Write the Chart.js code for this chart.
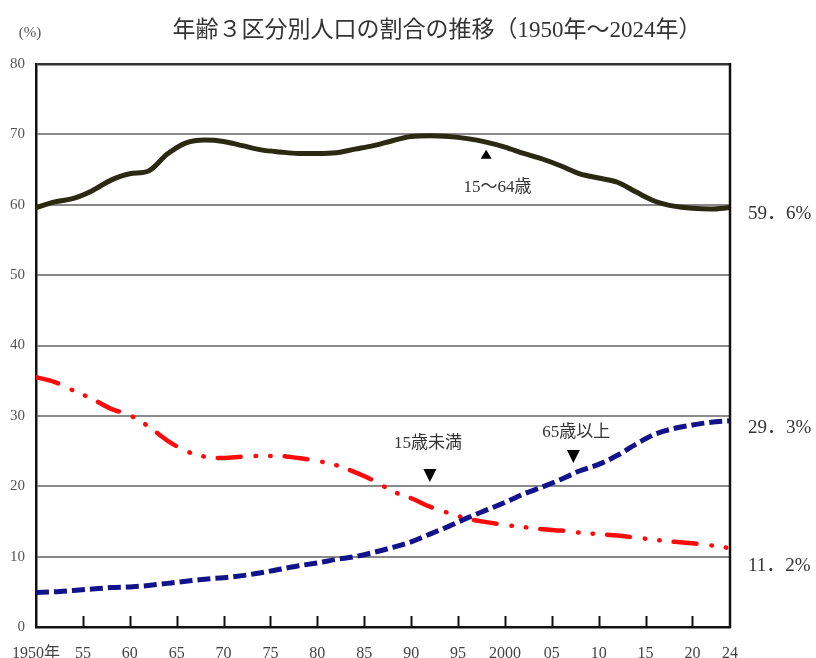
<!DOCTYPE html>
<html lang="ja">
<head>
<meta charset="utf-8">
<title>年齢３区分別人口の割合の推移</title>
<script src="https://cdn.jsdelivr.net/npm/chart.js@4.4.1/dist/chart.umd.min.js"></script>
<style>
  html, body { margin: 0; padding: 0; background: #ffffff; }
  #wrap { width: 816px; height: 658px; position: relative; }
</style>
</head>
<body>
<div id="wrap"><canvas id="c" width="816" height="658"></canvas></div>
<script>
// 年次（2年おき＋最新年）
const years = [1950, 1952, 1954, 1956, 1958, 1960, 1962, 1964, 1966, 1968,
               1970, 1972, 1974, 1976, 1978, 1980, 1982, 1984, 1986, 1988,
               1990, 1992, 1994, 1996, 1998, 2000, 2002, 2004, 2006, 2008,
               2010, 2012, 2014, 2016, 2018, 2020, 2022, 2024];

// 15～64歳の割合（%）
const age15to64 = [59.6, 60.4, 60.9, 62.0, 63.5, 64.4, 64.8, 67.2, 68.8, 69.2,
                   69.0, 68.4, 67.8, 67.5, 67.3, 67.3, 67.4, 67.9, 68.4, 69.1,
                   69.7, 69.8, 69.7, 69.4, 68.9, 68.2, 67.3, 66.5, 65.5, 64.4,
                   63.8, 63.2, 61.8, 60.5, 59.8, 59.5, 59.4, 59.6];

// 15歳未満の割合（%）
const under15 = [35.5, 34.8, 33.6, 32.4, 31.0, 30.1, 28.5, 26.5, 25.0, 24.2,
                 24.0, 24.2, 24.3, 24.3, 24.0, 23.6, 23.0, 22.0, 20.8, 19.3,
                 18.3, 17.1, 16.2, 15.4, 14.9, 14.5, 14.2, 13.9, 13.7, 13.4,
                 13.2, 13.0, 12.7, 12.4, 12.1, 11.9, 11.6, 11.2];

// 65歳以上の割合（%）
const age65plus = [4.9, 5.0, 5.2, 5.4, 5.6, 5.7, 5.9, 6.2, 6.5, 6.8,
                   7.0, 7.3, 7.7, 8.2, 8.7, 9.1, 9.6, 10.0, 10.6, 11.3,
                   12.1, 13.2, 14.3, 15.5, 16.6, 17.7, 18.9, 19.9, 21.0, 22.2,
                   23.1, 24.4, 26.0, 27.4, 28.2, 28.7, 29.1, 29.3];

// 横軸の目盛
const xTickYears = [1950, 1955, 1960, 1965, 1970, 1975, 1980, 1985, 1990, 1995,
                    2000, 2005, 2010, 2015, 2020, 2024];
const xTickLabels = ['1950年', '55', '60', '65', '70', '75', '80', '85', '90', '95',
                     '2000', '05', '10', '15', '20', '24'];

// 系列名と最新値ラベル
const seriesNames = ['15～64歳', '15歳未満', '65歳以上'];
const latestLabels = ['59．6%', '11．2%', '29．3%'];

const titleText = '年齢３区分別人口の割合の推移（1950年～2024年）';
const unitText = '(%)';

const toPoints = (vals) => years.map((y, i) => ({ x: y, y: vals[i] }));

const SERIF = "'Liberation Serif', 'Noto Sans CJK JP', serif";

// 図中の注記・枠線・目盛などの描画
const decorations = {
  id: 'decorations',
  afterDraw(chart) {
    const { ctx, chartArea: a, scales: { x, y } } = chart;
    ctx.save();

    // 右枠
    ctx.strokeStyle = '#111';
    ctx.lineWidth = 2.5;
    ctx.beginPath();
    ctx.moveTo(a.right, a.top - 1);
    ctx.lineTo(a.right, a.bottom + 1);
    ctx.stroke();

    // 内向きの目盛
    ctx.lineWidth = 2;
    ctx.strokeStyle = '#111';
    xTickYears.slice(1, -1).forEach(v => {
      const px = Math.round(x.getPixelForValue(v)) + 0.5;
      ctx.beginPath();
      ctx.moveTo(px, a.bottom);
      ctx.lineTo(px, a.bottom - 11);
      ctx.stroke();
    });

    // タイトルと単位
    ctx.fillStyle = '#333';
    ctx.textBaseline = 'middle';
    ctx.textAlign = 'center';
    ctx.font = "23px 'Liberation Serif', 'Noto Sans CJK JP', sans-serif";
    ctx.fillText(titleText, 437, 31);
    ctx.font = '15px ' + SERIF;
    ctx.fillStyle = '#555';
    ctx.fillText(unitText, 30, 33);

    // 最新値ラベル（右側）
    const lastVals = [age15to64, under15, age65plus].map(s => s[s.length - 1]);
    const labelShift = [6, 18, 7];
    ctx.font = '19px ' + SERIF;
    ctx.fillStyle = '#333';
    ctx.textAlign = 'left';
    lastVals.forEach((v, i) => {
      ctx.fillText(latestLabels[i], 748, y.getPixelForValue(v) + labelShift[i]);
    });

    // 系列名の注記と三角印
    const notes = [
      { text: seriesNames[0], tx: 1999.2, ty: 62.4, mx: 1998.0, my: 67.8, up: true },
      { text: seriesNames[1], tx: 1991.8, ty: 26.0, mx: 1992.0, my: 20.6, up: false },
      { text: seriesNames[2], tx: 2007.6, ty: 27.7, mx: 2007.3, my: 23.3, up: false }
    ];
    ctx.font = '17px ' + SERIF;
    ctx.textAlign = 'center';
    notes.forEach(n => {
      ctx.fillStyle = '#333';
      ctx.fillText(n.text, x.getPixelForValue(n.tx), y.getPixelForValue(n.ty));
      const mx = x.getPixelForValue(n.mx);
      const my = y.getPixelForValue(n.my);
      ctx.fillStyle = '#000';
      ctx.beginPath();
      if (n.up) {
        ctx.moveTo(mx, my);
        ctx.lineTo(mx - 5.5, my + 9);
        ctx.lineTo(mx + 5.5, my + 9);
      } else {
        ctx.moveTo(mx, my);
        ctx.lineTo(mx - 6.5, my - 13);
        ctx.lineTo(mx + 6.5, my - 13);
      }
      ctx.closePath();
      ctx.fill();
    });

    ctx.restore();
  }
};

new Chart(document.getElementById('c'), {
  type: 'line',
  data: {
    datasets: [
      {
        label: seriesNames[0],
        data: toPoints(age15to64),
        borderColor: '#2a2a12',
        borderWidth: 5,
        pointRadius: 0,
        cubicInterpolationMode: 'monotone',
        borderCapStyle: 'round'
      },
      {
        label: seriesNames[2],
        data: toPoints(age65plus),
        borderColor: '#12128a',
        borderWidth: 5,
        borderDash: [13, 5],
        pointRadius: 0,
        cubicInterpolationMode: 'monotone',
        borderCapStyle: 'butt'
      },
      {
        label: seriesNames[1],
        data: toPoints(under15),
        borderColor: '#ff0a0a',
        borderWidth: 4.5,
        borderDash: [23, 15, 0.5, 14, 0.5, 14],
        pointRadius: 0,
        cubicInterpolationMode: 'monotone',
        borderCapStyle: 'round'
      }
    ]
  },
  options: {
    responsive: false,
    animation: false,
    devicePixelRatio: 1,
    layout: { padding: { top: 64, right: 86, bottom: 0, left: 0 } },
    plugins: {
      legend: { display: false },
      tooltip: { enabled: false },
      title: { display: false }
    },
    scales: {
      x: {
        type: 'linear',
        min: 1950,
        max: 2024,
        afterBuildTicks: (scale) => {
          scale.ticks = xTickYears.map(v => ({ value: v }));
        },
        afterFit: (scale) => {
          scale.height = 31;
          scale.paddingLeft = 0;
          scale.paddingRight = 0;
        },
        ticks: {
          autoSkip: false,
          maxRotation: 0,
          padding: 17,
          color: '#444',
          font: { family: SERIF, size: 16 },
          callback: (v) => xTickLabels[xTickYears.indexOf(v)]
        },
        grid: { display: false, drawTicks: false },
        border: { display: true, color: '#111', width: 2.5 }
      },
      y: {
        min: 0,
        max: 80,
        afterFit: (scale) => { scale.width = 36; },
        ticks: {
          stepSize: 10,
          padding: 11,
          color: '#555',
          font: { family: SERIF, size: 15 }
        },
        grid: {
          drawTicks: false,
          color: (c) => (c.tick && c.tick.value === 80) ? '#333' : '#8a8a8a',
          lineWidth: (c) => (c.tick && c.tick.value === 80) ? 2.5 : 2
        },
        border: { display: true, color: '#111', width: 2.5 }
      }
    }
  },
  plugins: [decorations]
});
</script>
</body>
</html>
